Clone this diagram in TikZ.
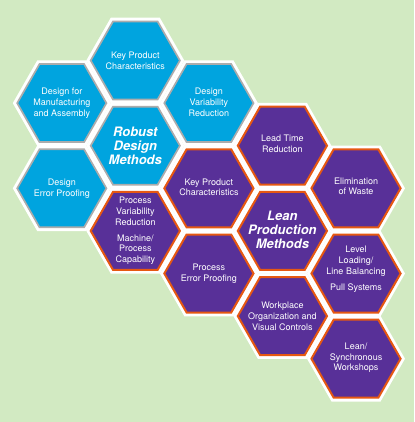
\documentclass[tikz,border=0pt]{standalone}
\usepackage{fontspec}
\setmainfont{TeX Gyre Heros}
\usepackage{tikz}
\definecolor{bggreen}{RGB}{210,234,194}
\definecolor{cellblue}{RGB}{0,164,223}
\definecolor{cellgray}{RGB}{172,172,172}
\definecolor{cellpurple}{RGB}{88,48,152}
\definecolor{cellorange}{RGB}{230,88,18}
\tikzset{
	bluecell/.style={fill=cellblue, draw=cellgray, line width=1.7pt},
	purplecell/.style={fill=cellpurple, draw=cellorange, line width=2pt},
	celltext/.style={text=white, align=center, font=\fontsize{9}{10.8}\selectfont},
	celltitle/.style={text=white, align=center, font=\fontsize{13}{14}\selectfont\bfseries\itshape}
}
\def\hexcell[#1](#2){%
	\fill[white] (#2) +(49,0) -- +(24.5,42.8) -- +(-24.5,42.8) -- +(-49,0) -- +(-24.5,-42.8) -- +(24.5,-42.8) -- cycle;
	\filldraw[#1] (#2) +(44.6,0) -- +(22.3,39) -- +(-22.3,39) -- +(-44.6,0) -- +(-22.3,-39) -- +(22.3,-39) -- cycle;}

\begin{document}
\begin{tikzpicture}[x=1pt, y=-1pt]
			%%%%% START %%%%%
			\useasboundingbox (0,0) rectangle (414,422);
			\fill[bggreen] (0,0) rectangle (414,422);
			
			\coordinate (kpc) at (135.3, 60.5);
			\coordinate (dfma) at (61.8, 103.1);
			\coordinate (dvr) at (208.9, 103.1);
			\coordinate (rdm) at (135.3, 145.7);
			\coordinate (dep) at (61.8, 188.3);
			
			\coordinate (ltr) at (282.4, 145.7);
			\coordinate (pkpc) at (208.9, 188.3);
			\coordinate (eow) at (356, 188.3);
			\coordinate (pvr) at (135.3, 230.9);
			\coordinate (lpm) at (282.4, 230.9);
			\coordinate (pep) at (208.9, 273.5);
			\coordinate (llb) at (356, 273.5);
			\coordinate (wpo) at (282.4, 316.1);
			\coordinate (lsw) at (356, 358.7);
			
			\hexcell[bluecell](kpc)
			\hexcell[bluecell](dfma)
			\hexcell[bluecell](dvr)
			\hexcell[bluecell](rdm)
			\hexcell[bluecell](dep)
			
			\hexcell[purplecell](ltr)
			\hexcell[purplecell](pkpc)
			\hexcell[purplecell](eow)
			\hexcell[purplecell](pvr)
			\hexcell[purplecell](lpm)
			\hexcell[purplecell](pep)
			\hexcell[purplecell](llb)
			\hexcell[purplecell](wpo)
			\hexcell[purplecell](lsw)
			
			\node[celltext] (kpctext) at (kpc) {Key Product\\Characteristics};
			\node[celltext] (dfmatext) at (dfma) {Design for\\Manufacturing\\and Assembly};
			\node[celltext, yshift=1pt] (dvrtext) at (dvr) {Design\\Variability\\Reduction};
			\node[celltitle] (rdmtext) at (rdm) {Robust\\Design\\Methods};
			\node[celltext] (deptext) at (dep) {Design\\Error Proofing};
			
			\node[celltext, yshift=2pt] (ltrtext) at (ltr) {Lead Time\\Reduction};
			\node[celltext, yshift=1pt] (pkpctext) at (pkpc) {Key Product\\Characteristics};
			\node[celltext, yshift=2pt] (eowtext) at (eow) {Elimination\\of Waste};
			\node[celltext] (pvrtext) at (pvr) {Process\\Variability\\Reduction\\[5pt]Machine/\\Process\\Capability};
			\node[celltitle, yshift=1pt] (lpmtext) at (lpm) {Lean\\Production\\Methods};
			\node[celltext] (peptext) at (pep) {Process\\Error Proofing};
			\node[celltext, yshift=4.5pt] (llbtext) at (llb) {Level\\Loading/\\Line Balancing\\[5pt]Pull Systems};
			\node[celltext] (wpotext) at (wpo) {Workplace\\Organization and\\Visual Controls};
			\node[celltext, yshift=1pt] (lswtext) at (lsw) {Lean/\\Synchronous\\Workshops};
			%%%%% END %%%%%
\end{tikzpicture}
\end{document}
